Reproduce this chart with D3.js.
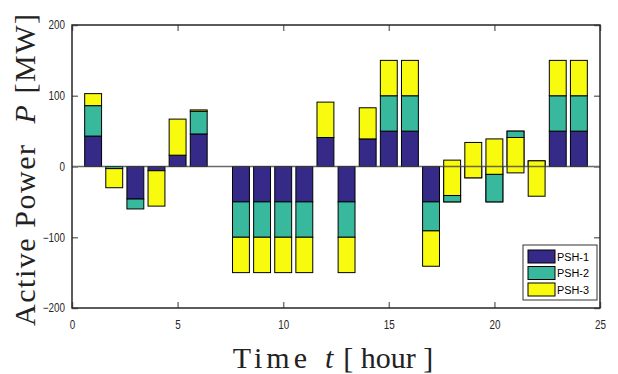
<!DOCTYPE html>
<meta charset="utf-8">
<script src="https://d3js.org/d3.v7.min.js"></script>
<style>
  body { margin: 0; background: #fff; }
  svg { display: block; }
  .tick text { font-family: "Liberation Sans", Arial, sans-serif; font-size: 12px; fill: #262626; }
</style>
<body>
<svg id="chart" width="618" height="374"></svg>
<script>
// hourly active power of the three pumped-storage units (MW), stacked cumulatively
var hours = d3.range(1, 25)
var psh1 = [43, 0, -46, -6, 16, 46, 0, -50, -50, -50, -50, 41, -50, 39, 50, 50, -50, -50, -16, -50, 50, 8, 50, 50]
var psh2 = [43, -3, -14, 0, 0, 32, 0, -50, -50, -50, -50, 0, -50, 0, 50, 50, -41, 9, 0, 39, -9, 0, 50, 50]
var psh3 = [17, -27, 0, -50, 51, 2, 0, -50, -50, -50, -50, 50, -50, 44, 50, 50, -50, 50, 50, 50, -50, -50, 50, 50]
var names = ["PSH-1", "PSH-2", "PSH-3"]
var colors = ["#352a87", "#38b99e", "#f9fb0e"]
var xTicks = [0, 5, 10, 15, 20, 25]
var yTicks = [-200, -100, 0, 100, 200]

var margin = {top: 25, right: 18, bottom: 66, left: 72}
var W = 618, H = 374
var width = W - margin.left - margin.right
var height = H - margin.top - margin.bottom

var svg = d3.select("#chart")
var g = svg.append("g").attr("transform", "translate(" + margin.left + "," + margin.top + ")")

var x = d3.scaleLinear().domain([0, 25]).range([0, width])
var y = d3.scaleLinear().domain([-200, 200]).range([height, 0])

var rows = hours.map(function(h, i) {
  return {hour: h, "PSH-1": psh1[i], "PSH-2": psh2[i], "PSH-3": psh3[i]}
})
var stack = d3.stack().keys(names).offset(d3.stackOffsetNone).order(d3.stackOrderNone)
var series = stack(rows)

var bw = x(0.8) - x(0)

series.forEach(function(s, k) {
  g.selectAll(".bar" + k)
    .data(s)
    .enter().append("rect")
      .attr("x", function(d) { return x(d.data.hour) - bw / 2 })
      .attr("y", function(d) { return y(Math.max(d[0], d[1])) })
      .attr("width", bw)
      .attr("height", function(d) { return Math.abs(y(d[0]) - y(d[1])) })
      .attr("fill", colors[k])
      .attr("stroke", "#000")
      .attr("stroke-width", 1)
})

// baseline at zero
g.append("line")
  .attr("x1", 0).attr("x2", width)
  .attr("y1", y(0)).attr("y2", y(0))
  .attr("stroke", "#444").attr("stroke-opacity", 0.8).attr("stroke-width", 1.5)

// axes with inward ticks on all four sides
var tickLen = 6
g.append("g").attr("transform", "translate(0," + height + ")")
  .call(d3.axisBottom(x).tickValues(xTicks).tickSizeInner(-tickLen).tickSizeOuter(0).tickPadding(12))
g.append("g")
  .call(d3.axisTop(x).tickValues(xTicks).tickSizeInner(-tickLen).tickSizeOuter(0).tickFormat(""))
g.append("g")
  .call(d3.axisLeft(y).tickValues(yTicks).tickSizeInner(-tickLen).tickSizeOuter(0).tickPadding(7))
g.append("g").attr("transform", "translate(" + width + ",0)")
  .call(d3.axisRight(y).tickValues(yTicks).tickSizeInner(-tickLen).tickSizeOuter(0).tickFormat(""))
g.selectAll(".domain").remove()
g.selectAll(".tick line").attr("stroke", "#777").attr("stroke-width", 1.5)
// the original labels are set in a narrow face
g.selectAll(".tick text").each(function() {
  var t = d3.select(this)
  var len = this.getComputedTextLength()
  if (len > 0) t.attr("textLength", len * 0.82).attr("lengthAdjust", "spacingAndGlyphs")
})

g.append("rect")
  .attr("width", width).attr("height", height)
  .attr("fill", "none").attr("stroke", "#262626").attr("stroke-width", 1.5)

// legend
var lg = svg.append("g").attr("transform", "translate(523,245)")
lg.append("rect").attr("width", 74).attr("height", 55)
  .attr("fill", "#fff").attr("stroke", "#333").attr("stroke-width", 1)
names.forEach(function(n, i) {
  lg.append("rect")
    .attr("x", 5).attr("y", 5 + i * 16.5).attr("width", 27).attr("height", 13)
    .attr("fill", colors[i]).attr("stroke", "#000")
  lg.append("text")
    .attr("x", 34).attr("y", 15.5 + i * 16.5)
    .style("font-family", "'Liberation Sans', Arial, sans-serif")
    .style("font-size", "10px")
    .attr("textLength", 32).attr("lengthAdjust", "spacingAndGlyphs")
    .text(n)
})

// axis titles
var serif = "'Liberation Serif', 'Times New Roman', serif"
var xl = svg.append("text")
  .attr("x", 333).attr("y", 368)
  .attr("text-anchor", "middle")
  .style("font-family", serif).style("font-size", "30px").attr("fill", "#222")
xl.append("tspan").style("letter-spacing", "4px").text("Time")
xl.append("tspan").attr("dx", 14).style("font-style", "italic").text("t")
xl.append("tspan").attr("dx", 10).text("[ hour ]")

var yl = svg.append("text")
  .attr("transform", "translate(35,170) rotate(-90)")
  .attr("text-anchor", "middle")
  .style("font-family", serif).style("font-size", "30px").attr("fill", "#222")
  .attr("textLength", 312).attr("lengthAdjust", "spacing")
yl.append("tspan").text("Active Power")
yl.append("tspan").attr("dx", 20).style("font-style", "italic").text("P")
yl.append("tspan").attr("dx", 10).text("[MW]")
</script>
</body>
